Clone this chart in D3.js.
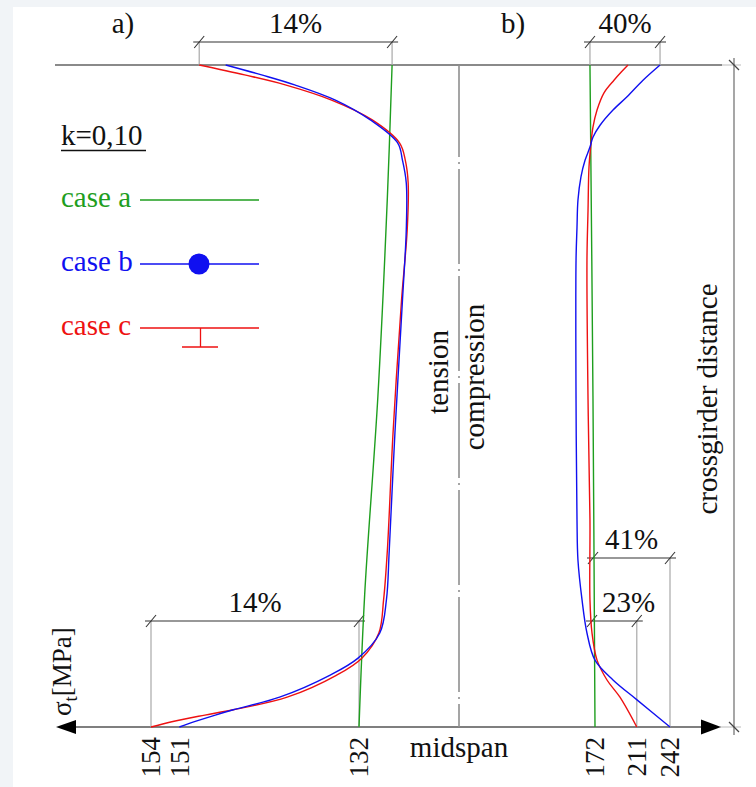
<!DOCTYPE html>
<html><head><meta charset="utf-8">
<script src="https://cdn.jsdelivr.net/npm/d3@7"></script>
<style>body{margin:0;background:#fff}svg{display:block}text{font-family:"Liberation Serif","Times New Roman",serif;fill:#111}</style>
</head><body><svg id="c" width="756" height="787"></svg>
<script>
// ---------- DATA ----------
// position along the girder: 0 = crossgirder, 1 = midspan
const posA = [0,0.015,0.03,0.053,0.083,0.118,0.144,0.178,0.249,0.355,0.556,0.733,0.808,0.858,0.896,0.922,0.955,0.974,0.982,0.992,1];
const caseB_a = [146.1,142.3,138.8,134.5,130.8,127.9,127.4,127.0,127.0,127.4,128.2,128.8,129.1,129.8,132.1,135.1,140.4,145.3,147.2,149.4,151];
const caseC_a = [148.9,144.1,139.8,134.9,130.6,127.7,127.1,126.8,126.9,127.5,128.4,129.0,129.4,129.9,131.7,134.4,139.6,145.3,148.3,151.8,154];
const posA_green = [0,0.2,0.5,0.8,1];
const caseA_a = [128.5,129.0,130.0,131.4,132];

const posB_blue = [0,0.023,0.048,0.068,0.091,0.109,0.124,0.144,0.169,0.204,0.245,0.295,0.506,0.687,0.748,0.808,0.858,0.899,0.929,0.959,1];
const caseB_b = [232.7,216.8,201.9,188.8,176.7,170.1,167.3,162.7,158.9,156.1,155.2,154.3,154.3,155.2,156.1,159.9,164.5,172.0,188.8,211.2,242];
const posB_red = [0,0.011,0.023,0.042,0.068,0.094,0.118,0.154,0.219,0.295,0.506,0.687,0.808,0.858,0.899,0.929,0.955,1];
const caseC_b = [202.8,196.3,189.7,180.4,173.9,170.1,168.3,166.4,165.5,164.5,165.5,167.3,167.3,169.2,173.9,183.2,195.3,211];
const posB_green = [0,0.5,1];
const caseA_b = [167.3,170.1,172];

const ticksA = [154,151,132];
const ticksB = [172,211,242];
const legendLabels = ["case a","case b","case c"];
const legendColors = ["#1e9e1e","#1010f0","#ee1111"];

// ---------- SETUP ----------
const svg = d3.select("#c");
svg.append("rect").attr("width",756).attr("height",787).attr("fill","#f1f4f7");
svg.append("rect").attr("x",13).attr("y",7).attr("width",743).attr("height",780).attr("fill","#fff");

const xA = d3.scaleLinear().domain([154,132]).range([151,359]);
const xB = d3.scaleLinear().domain([172,242]).range([595,670]);
const y = d3.scaleLinear().domain([0,1]).range([65,727]);
const Y0 = y(0), Y1 = y(1);

const zip = (p,v)=>p.map((d,i)=>({p:d,v:v[i]}));
const mkLine = xs => d3.line().x(d=>xs(d.v)).y(d=>y(d.p)).curve(d3.curveCatmullRom.alpha(0.5));

// structural lines
svg.append("line").attr("x1",55).attr("x2",722).attr("y1",Y0).attr("y2",Y0).attr("stroke","#8a8a8a").attr("stroke-width",2.2);
svg.append("line").attr("x1",722).attr("x2",741).attr("y1",Y0).attr("y2",Y0).attr("stroke","#bbb").attr("stroke-width",1);
svg.append("line").attr("x1",72).attr("x2",706).attr("y1",Y1).attr("y2",Y1).attr("stroke","#555").attr("stroke-width",1.6);
svg.append("line").attr("x1",720).attr("x2",741).attr("y1",Y1).attr("y2",Y1).attr("stroke","#bbb").attr("stroke-width",1);
svg.append("path").attr("d",`M56,${Y1} L76,${Y1-7} L76,${Y1+7} Z`).attr("fill","#000");
svg.append("path").attr("d",`M721,${Y1} L701,${Y1-7.5} L701,${Y1+7.5} Z`).attr("fill","#000");

// midspan dash-dot line
svg.append("line").attr("x1",459).attr("x2",459).attr("y1",Y0).attr("y2",Y1)
  .attr("stroke","#8f8f8f").attr("stroke-width",1.6).attr("stroke-dasharray","95,5,2,5").attr("stroke-dashoffset",3);

// right vertical dimension
svg.append("line").attr("x1",734).attr("x2",734).attr("y1",Y0-7).attr("y2",Y1+8).attr("stroke","#777").attr("stroke-width",1.3);
[Y0,Y1].forEach(yy=>svg.append("line").attr("x1",729).attr("x2",739).attr("y1",yy-5).attr("y2",yy+5).attr("stroke","#444").attr("stroke-width",1.2));

// ---------- CURVES ----------
const series = [
  {d:zip(posA_green,caseA_a),x:xA,c:legendColors[0]},
  {d:zip(posB_green,caseA_b),x:xB,c:legendColors[0]},
  {d:zip(posA,caseC_a),x:xA,c:legendColors[2]},
  {d:zip(posB_red,caseC_b),x:xB,c:legendColors[2]},
  {d:zip(posA,caseB_a),x:xA,c:legendColors[1]},
  {d:zip(posB_blue,caseB_b),x:xB,c:legendColors[1]}
];

// ---------- DIMENSIONS ----------
function hdim(x1,x2,yy,ext1,ext2,label,lx,anchor){
  const g = svg.append("g");
  if(ext1!==null) g.append("line").attr("x1",x1).attr("x2",x1).attr("y1",yy).attr("y2",ext1).attr("stroke","#a8a8a8").attr("stroke-width",1.2);
  if(ext2!==null) g.append("line").attr("x1",x2).attr("x2",x2).attr("y1",yy).attr("y2",ext2).attr("stroke","#a8a8a8").attr("stroke-width",1.2);
  g.append("line").attr("x1",x1-6).attr("x2",x2+6).attr("y1",yy).attr("y2",yy).attr("stroke","#333").attr("stroke-width",1.2);
  [x1,x2].forEach(xx=>g.append("line").attr("x1",xx-5).attr("x2",xx+5).attr("y1",yy+6).attr("y2",yy-6).attr("stroke","#333").attr("stroke-width",1.1));
  g.append("text").attr("x",lx).attr("y",yy-9).attr("text-anchor",anchor).attr("font-size",29).text(label);
}
const tA0 = xA(caseC_a[0]), tA1 = xA(caseA_a[0]);
hdim(tA0,tA1,42,Y0,Y0,"14%",(tA0+tA1)/2,"middle");
const tB0 = xB(caseA_b[0]), tB1 = xB(caseB_b[0]);
hdim(tB0,tB1,42,Y0,Y0,"40%",(tB0+tB1)/2,"middle");
hdim(xA(154),xA(132),621,Y1,Y1,"14%",(xA(154)+xA(132))/2,"middle");
hdim(xB(172)-2,xB(242),558,null,Y1,"41%",xB(172)+10,"start");
hdim(xB(172)-3,xB(211),621,null,Y1,"23%",xB(172)+7,"start");

series.forEach(s=>svg.append("path").datum(s.d).attr("d",mkLine(s.x)).attr("fill","none").attr("stroke",s.c).attr("stroke-width",1.4));

// ---------- AXES ----------
function tickAxis(sc,vals){
  const g = svg.append("g").attr("transform",`translate(0,${Y1})`)
    .call(d3.axisBottom(sc).tickValues(vals).tickSize(0).tickFormat(d3.format("d")));
  g.select(".domain").remove();
  g.selectAll("text").attr("transform","rotate(-90)").attr("text-anchor","end")
    .attr("x",-10).attr("y",0).attr("dy","0.33em")
    .style("font-family",'"Liberation Serif",serif').attr("font-size",27).attr("fill","#111");
}
tickAxis(xA,ticksA);
tickAxis(xB,ticksB);

// ---------- TEXT ----------
svg.append("text").attr("x",123).attr("y",33).attr("text-anchor","middle").attr("font-size",29).text("a)");
svg.append("text").attr("x",513).attr("y",33).attr("text-anchor","middle").attr("font-size",29).text("b)");
svg.append("text").attr("x",459).attr("y",757).attr("text-anchor","middle").attr("font-size",29).text("midspan");
svg.append("text").attr("transform","translate(448,372) rotate(-90)").attr("text-anchor","middle").attr("font-size",29).text("tension");
svg.append("text").attr("transform","translate(484,377) rotate(-90)").attr("text-anchor","middle").attr("font-size",29).text("compression");
svg.append("text").attr("transform","translate(717,399) rotate(-90)").attr("text-anchor","middle").attr("font-size",29).text("crossgirder distance");
const sig = svg.append("text").attr("transform","translate(71,716) rotate(-90)").attr("text-anchor","start").attr("font-size",27);
sig.append("tspan").text("σ");
sig.append("tspan").attr("font-size",19).attr("dy",6).text("t");
sig.append("tspan").attr("dy",-6).text("[MPa]");

// ---------- LEGEND ----------
const lg = svg.append("g");
lg.append("text").attr("x",61).attr("y",145).attr("font-size",29).text("k=0,10");
lg.append("line").attr("x1",61).attr("x2",146).attr("y1",150.5).attr("y2",150.5).attr("stroke","#111").attr("stroke-width",1.3);
const ly = [200,264,328];
legendLabels.forEach((lab,i)=>{
  lg.append("text").attr("x",61).attr("y",ly[i]+7).attr("font-size",29).style("fill",legendColors[i]).text(lab);
  lg.append("line").attr("x1",140).attr("x2",259).attr("y1",ly[i]).attr("y2",ly[i]).attr("stroke",legendColors[i]).attr("stroke-width",1.3);
});
lg.append("circle").attr("cx",199).attr("cy",ly[1]).attr("r",10.5).attr("fill",legendColors[1]);
lg.append("line").attr("x1",200.5).attr("x2",200.5).attr("y1",ly[2]).attr("y2",ly[2]+19).attr("stroke",legendColors[2]).attr("stroke-width",1.3);
lg.append("line").attr("x1",182).attr("x2",218).attr("y1",ly[2]+19).attr("y2",ly[2]+19).attr("stroke",legendColors[2]).attr("stroke-width",1.3);
</script></body></html>
